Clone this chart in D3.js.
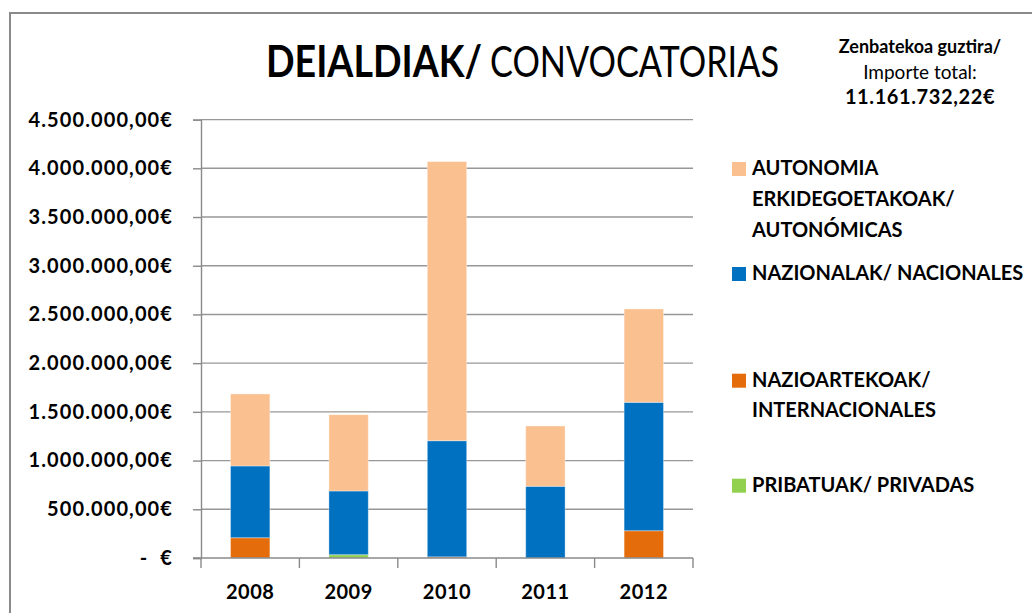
<!DOCTYPE html>
<html>
<head>
<meta charset="utf-8">
<script src="https://cdn.jsdelivr.net/npm/d3@7"></script>
<style>
  body { margin: 0; background: #fff; }
  svg text { font-family: Lato, "Open Sans", sans-serif; fill: #000; }
</style>
</head>
<body>
<div id="chart"></div>
<script>
// data (euros)
const years = ["2008", "2009", "2010", "2011", "2012"];
const privadas = [0, 34000, 0, 0, 0];
const internacionales = [208000, 0, 12000, 0, 280000];
const nacionales = [737000, 654000, 1192000, 736000, 1318000];
const autonomicas = [739000, 783000, 2865000, 619000, 958000];
const yTicks = [0, 500000, 1000000, 1500000, 2000000, 2500000, 3000000, 3500000, 4000000, 4500000];

// legend, top to bottom, lines as drawn
const legendLabels = [
    ["AUTONOMIA", "ERKIDEGOETAKOAK/", "AUTONÓMICAS"],
    ["NAZIONALAK/ NACIONALES"],
    ["NAZIOARTEKOAK/", "INTERNACIONALES"],
    ["PRIBATUAK/ PRIVADAS"]
];
const noteLines = ["Zenbatekoa guztira/", "Importe total:", "11.161.732,22€"];

const W = 1032, H = 613;
const svg = d3.select("#chart").append("svg")
    .attr("width", W)
    .attr("height", H);

// outer chart border (runs off right and bottom)
svg.append("rect")
    .attr("x", 10).attr("y", 13)
    .attr("width", W + 20).attr("height", H + 20)
    .attr("fill", "#fff")
    .attr("stroke", "#8a8a8a")
    .attr("stroke-width", 2);

// series, bottom of stack first
const series = [
    {key: "privadas", values: privadas, color: "#92d050"},
    {key: "internacionales", values: internacionales, color: "#e46c0a"},
    {key: "nacionales", values: nacionales, color: "#0070c0"},
    {key: "autonomicas", values: autonomicas, color: "#fac090"}
];

const table = years.map((y, i) => {
    let row = {year: y};
    series.forEach(s => row[s.key] = s.values[i]);
    return row;
});
const stacked = d3.stack().keys(series.map(s => s.key))(table);

const x = d3.scaleBand()
    .domain(years)
    .range([201, 693])
    .paddingInner(0.6)
    .paddingOuter(0.3);

const y = d3.scaleLinear()
    .domain([0, 4500000])
    .range([558, 119.6]);

const euro = d3.formatLocale({
    decimal: ",", thousands: ".", grouping: [3], currency: ["", "€"]
}).format("$,.2f");

// gridlines
svg.append("g")
    .selectAll("line")
    .data(yTicks.filter(d => d > 0))
    .join("line")
    .attr("x1", 201).attr("x2", 693)
    .attr("y1", d => y(d)).attr("y2", d => y(d))
    .attr("stroke", "#979797")
    .attr("stroke-width", 1.4);

// y axis
const yAxis = svg.append("g")
    .attr("transform", "translate(201,0)")
    .call(d3.axisLeft(y)
        .tickValues(yTicks)
        .tickSize(8)
        .tickPadding(20)
        .tickFormat(d => d === 0 ? "-  €" : euro(d)));
yAxis.select(".domain").attr("stroke", "#8a8a8a").attr("stroke-width", 1.4);
yAxis.selectAll(".tick line").attr("stroke", "#8a8a8a").attr("stroke-width", 1.4);
yAxis.selectAll(".tick text")
    .attr("font-size", 20)
    .attr("font-weight", "bold")
    .attr("letter-spacing", 1.1)
    .style("white-space", "pre")
    .style("font-family", "Lato, sans-serif");

// bars
svg.append("g")
    .selectAll("g")
    .data(stacked)
    .join("g")
    .attr("fill", (d, i) => series[i].color)
    .selectAll("rect")
    .data(d => d)
    .join("rect")
    .attr("x", d => x(d.data.year))
    .attr("width", x.bandwidth())
    .attr("y", d => y(d[1]))
    .attr("height", d => y(d[0]) - y(d[1]))
    .attr("stroke", "#fff")
    .attr("stroke-opacity", 0.35)
    .attr("stroke-width", 1);

// x axis: baseline, category separators, labels
const step = x.step();
const gap = (step - x.bandwidth()) / 2;
const xg = svg.append("g");
xg.append("line")
    .attr("x1", 193).attr("x2", 693)
    .attr("y1", y(0)).attr("y2", y(0))
    .attr("stroke", "#8a8a8a").attr("stroke-width", 1.4);
xg.selectAll("line.sep")
    .data(years.map(d => x(d) - gap).concat([x(years[years.length - 1]) + x.bandwidth() + gap]))
    .join("line")
    .attr("class", "sep")
    .attr("x1", d => d).attr("x2", d => d)
    .attr("y1", y(0)).attr("y2", y(0) + 10)
    .attr("stroke", "#8a8a8a").attr("stroke-width", 1.4);
xg.selectAll("text")
    .data(years)
    .join("text")
    .attr("x", d => x(d) + x.bandwidth() / 2)
    .attr("y", 599)
    .attr("text-anchor", "middle")
    .attr("font-size", 20)
    .attr("font-weight", "bold")
    .attr("letter-spacing", 0.5)
    .text(d => d);

// title
svg.append("text")
    .attr("x", 266).attr("y", 77)
    .attr("font-size", 43)
    .attr("font-weight", "bold")
    .attr("textLength", 216)
    .attr("lengthAdjust", "spacingAndGlyphs")
    .text("DEIALDIAK/");
svg.append("text")
    .attr("x", 490).attr("y", 77)
    .attr("font-size", 43)
    .attr("textLength", 289)
    .attr("lengthAdjust", "spacingAndGlyphs")
    .text("CONVOCATORIAS");

// total note
svg.append("g")
    .selectAll("text")
    .data(noteLines)
    .join("text")
    .attr("x", 920)
    .attr("y", (d, i) => 53 + i * 25.5)
    .attr("text-anchor", "middle")
    .attr("font-size", (d, i) => [18, 19, 20][i])
    .attr("font-weight", (d, i) => i === 1 ? "normal" : "bold")
    .attr("letter-spacing", (d, i) => i === 2 ? 0.6 : 0)
    .text(d => d);

// legend
const legendTop = [175, 280, 386.7, 491.7];
const leg = svg.append("g")
    .selectAll("g")
    .data(legendLabels)
    .join("g")
    .attr("transform", (d, i) => `translate(732,${legendTop[i]})`);
leg.append("rect")
    .attr("x", 0).attr("y", -13)
    .attr("width", 14).attr("height", 14)
    .attr("fill", (d, i) => series[series.length - 1 - i].color);
leg.selectAll("text")
    .data(d => d)
    .join("text")
    .attr("x", 20)
    .attr("y", (d, i) => i * 30.8)
    .attr("font-size", 20)
    .attr("font-weight", "bold")
    .text(d => d);
</script>
</body>
</html>
